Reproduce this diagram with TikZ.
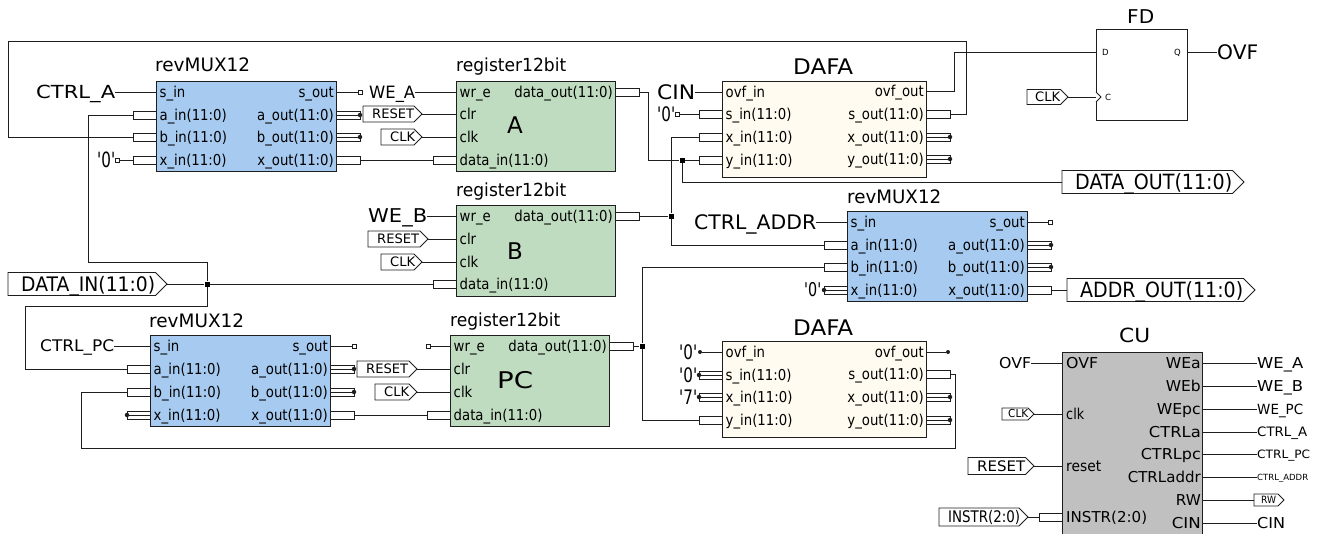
\documentclass[tikz,border=0pt]{standalone}
\usepackage{fontspec}
\usepackage{graphicx}
\setmainfont{DejaVu Sans}
\definecolor{muxblue}{HTML}{A6CAF0}
\definecolor{reggreen}{HTML}{C0DCC0}
\definecolor{dafacream}{HTML}{FFFBF0}
\definecolor{cugray}{HTML}{C0C0C0}
\definecolor{ink}{HTML}{1E1E1E}
\tikzset{
  blk/.style={draw=ink,line width=1pt,inner sep=0pt,anchor=north west},
  wire/.style={draw=ink,line width=0.9pt},
  stub/.style={draw=ink,line width=1pt,fill=white},
  jct/.style={fill=black,inner sep=0pt,minimum size=5pt},
  sqend/.style={draw=ink,line width=0.8pt,fill=white,inner sep=0pt,minimum size=4pt},
  dotend/.style={circle,fill=ink,inner sep=0pt,minimum size=4.5pt},
  tagline/.style={draw=ink,line width=0.9pt,fill=white,line join=miter}
}
\newcommand\sz[3]{\fontsize{#1}{#1}\selectfont\if\relax\detokenize{#2}\relax #3\else\resizebox{#2pt}{\height}{#3}\fi}
% anchor,name,x,ycentre,size,width,text
\newcommand\tx[7]{\node[anchor=#1,inner sep=0pt] (#2) at ({#3},{#4+0.36*#5}) {\sz{#5}{#6}{#7}};}
% name,x1,y1,x2,y2,colour
\newcommand\blockbox[6]{\node[blk,fill=#6,minimum width={(#4-#2)*1pt},minimum height={(#5-#3)*1pt}] (#1) at (#2,#3) {};}
\newcommand\plabL[4]{\tx{base west}{#1-t}{#2+3.5}{#3}{15}{}{\scalebox{.885}[1]{#4}}}
\newcommand\plabR[4]{\tx{base east}{#1-t}{#2-2}{#3}{15}{}{\scalebox{.885}[1]{#4}}}
% wire ports: id,x,y,text
\newcommand\Lw[4]{\coordinate (#1) at (#2,#3);\plabL{#1}{#2}{#3}{#4}}
\newcommand\Rw[4]{\coordinate (#1) at (#2,#3);\plabR{#1}{#2}{#3}{#4}}
% bus ports
\newcommand\Lb[4]{\draw[stub] (#2-23,#3-4) rectangle (#2,#3+4);\coordinate (#1) at (#2-23,#3);\plabL{#1}{#2}{#3}{#4}}
\newcommand\Rb[4]{\draw[stub] (#2,#3-4) rectangle (#2+24,#3+4);\coordinate (#1) at (#2+24,#3);\plabR{#1}{#2}{#3}{#4}}
% bus ports ended by a dot
\newcommand\Rbd[4]{\Rb{#1}{#2}{#3}{#4}\node[dotend] (#1-d) at (#2+24,#3) {};\draw[wire] (#2,#3) -- (#1-d);}
\newcommand\Lbd[4]{\Lb{#1}{#2}{#3}{#4}\node[dotend] (#1-d) at (#2-23,#3) {};\draw[wire] (#2,#3) -- (#1-d);}
% signal tag: name,x1,x2,yc,h,size,textleft,textwidth,text
\newcommand\sigtag[9]{\draw[tagline] (#2,#4-#5/2) -- (#3-#5/2,#4-#5/2) -- (#3,#4) -- (#3-#5/2,#4+#5/2) -- (#2,#4+#5/2) -- cycle;
  \coordinate (#1) at (#3,#4);\coordinate (#1-w) at (#2,#4);\tx{base west}{#1-t}{#7}{#4}{#6}{#8}{#9}}
\newcommand\qq[1]{\textquotesingle#1\textquotesingle}
\begin{document}
\begin{tikzpicture}[x=1pt,y=-1pt]
\useasboundingbox (0,0) rectangle (1319,533);
\clip (0,0) rectangle (1319,533);
% ---------- blocks
\blockbox{M1}{156}{81}{336}{171}{muxblue}
\blockbox{RA}{456}{81}{615}{171}{reggreen}
\blockbox{D1}{722}{81}{926}{177}{dafacream}
\blockbox{RB}{456}{205}{615}{296}{reggreen}
\blockbox{M3}{847}{211}{1027}{301}{muxblue}
\blockbox{M2}{150}{335}{330}{426}{muxblue}
\blockbox{RP}{450}{335}{609}{426}{reggreen}
\blockbox{D2}{722}{341}{926}{437}{dafacream}
\blockbox{FF}{1096}{29}{1187}{120}{white}
\blockbox{CU}{1062}{352}{1202}{545}{cugray}
% ---------- titles
\tx{base west}{M1-title}{155}{65}{18.5}{95}{revMUX12}
\tx{base west}{M3-title}{847}{197}{18.5}{94}{revMUX12}
\tx{base west}{M2-title}{149}{321}{18.5}{95}{revMUX12}
\tx{base west}{RA-title}{456}{65}{18}{110}{register12bit}
\tx{base west}{RB-title}{456}{190}{18}{110}{register12bit}
\tx{base west}{RP-title}{450}{320}{18}{110}{register12bit}
\tx{base west}{D1-title}{793}{67}{21.5}{60}{DAFA}
\tx{base west}{D2-title}{793}{328}{21.5}{60}{DAFA}
\tx{base west}{FF-title}{1127}{17}{19}{27}{FD}
\tx{base west}{CU-title}{1119}{335}{19.5}{31}{CU}
\tx{base west}{RA-name}{507}{125}{23}{}{A}
\tx{base west}{RB-name}{507}{251}{23}{}{B}
\tx{base west}{RP-name}{497}{380}{23}{36}{PC}
% ---------- M1
\Lw{M1-s}{156}{92}{s\_in}
\Lb{M1-a}{156}{115}{a\_in(11:0)}
\Lb{M1-b}{156}{137}{b\_in(11:0)}
\Lb{M1-x}{156}{160}{x\_in(11:0)}
\Rw{M1-so}{336}{92}{s\_out}
\Rbd{M1-ao}{336}{115}{a\_out(11:0)}
\Rbd{M1-bo}{336}{137}{b\_out(11:0)}
\Rb{M1-xo}{336}{160}{x\_out(11:0)}
% ---------- RA
\Lw{RA-w}{456}{92}{wr\_e}
\Lw{RA-r}{456}{114}{clr}
\Lw{RA-c}{456}{137}{clk}
\Lb{RA-d}{456}{160}{data\_in(11:0)}
\Rb{RA-q}{615}{92}{data\_out(11:0)}
% ---------- RB
\Lw{RB-w}{456}{216}{wr\_e}
\Lw{RB-r}{456}{239}{clr}
\Lw{RB-c}{456}{262}{clk}
\Lb{RB-d}{456}{284}{data\_in(11:0)}
\Rb{RB-q}{615}{216}{data\_out(11:0)}
% ---------- RP
\Lw{RP-w}{450}{346}{wr\_e}
\Lw{RP-r}{450}{369}{clr}
\Lw{RP-c}{450}{392}{clk}
\Lb{RP-d}{450}{415}{data\_in(11:0)}
\Rb{RP-q}{609}{346}{data\_out(11:0)}
% ---------- D1
\Lw{D1-o}{722}{92}{ovf\_in}
\Lb{D1-s}{722}{114}{s\_in(11:0)}
\Lb{D1-x}{722}{137}{x\_in(11:0)}
\Lb{D1-y}{722}{160}{y\_in(11:0)}
\Rw{D1-oo}{926}{91}{ovf\_out}
\Rb{D1-so}{926}{114}{s\_out(11:0)}
\Rbd{D1-xo}{926}{137}{x\_out(11:0)}
\Rbd{D1-yo}{926}{159}{y\_out(11:0)}
% ---------- D2
\Lw{D2-o}{722}{352}{ovf\_in}
\Lbd{D2-s}{722}{375}{s\_in(11:0)}
\Lbd{D2-x}{722}{397}{x\_in(11:0)}
\Lb{D2-y}{722}{420}{y\_in(11:0)}
\Rw{D2-oo}{926}{352}{ovf\_out}
\Rb{D2-so}{926}{374}{s\_out(11:0)}
\Rbd{D2-xo}{926}{397}{x\_out(11:0)}
\Rbd{D2-yo}{926}{420}{y\_out(11:0)}
% ---------- M3
\Lw{M3-s}{847}{222}{s\_in}
\Lb{M3-a}{847}{245}{a\_in(11:0)}
\Lb{M3-b}{847}{267}{b\_in(11:0)}
\Lbd{M3-x}{847}{290}{x\_in(11:0)}
\Rw{M3-so}{1027}{222}{s\_out}
\Rbd{M3-ao}{1027}{245}{a\_out(11:0)}
\Rbd{M3-bo}{1027}{267}{b\_out(11:0)}
\Rb{M3-xo}{1027}{290}{x\_out(11:0)}
% ---------- M2
\Lw{M2-s}{150}{346}{s\_in}
\Lb{M2-a}{150}{369}{a\_in(11:0)}
\Lb{M2-b}{150}{392}{b\_in(11:0)}
\Lbd{M2-x}{150}{415}{x\_in(11:0)}
\Rw{M2-so}{330}{346}{s\_out}
\Rbd{M2-ao}{330}{369}{a\_out(11:0)}
\Rbd{M2-bo}{330}{392}{b\_out(11:0)}
\Rb{M2-xo}{330}{415}{x\_out(11:0)}
% ---------- FF
\coordinate (FF-D) at (1096,52);
\coordinate (FF-C) at (1096,97);
\coordinate (FF-Q) at (1187,52);
\tx{base west}{FF-Dt}{1102}{52}{8.5}{}{D}
\tx{base west}{FF-Ct}{1105}{97}{8.5}{}{C}
\tx{base west}{FF-Qt}{1174}{52}{8.5}{}{Q}
\draw[wire,fill=white] (1096,92) -- (1101,97) -- (1096,102);
% ---------- CU ports
\tx{base west}{CU-ot}{1066}{363}{15}{32}{OVF}
\coordinate (CU-o) at (1062,363);
\tx{base west}{CU-ct}{1066}{414}{15}{18}{clk}
\coordinate (CU-c) at (1062,414);
\tx{base west}{CU-rt}{1066}{466}{15}{35}{reset}
\coordinate (CU-r) at (1062,466);
\draw[stub] (1039,513) rectangle (1062,521);
\coordinate (CU-i) at (1039,517);
\tx{base west}{CU-it}{1066}{517}{15}{81}{INSTR(2:0)}
\foreach \nm/\yy/\ww/\tt in {a/363/35/WEa,b/386/35/WEb,p/409/44/WEpc,la/432/52/CTRLa,lp/454/60/CTRLpc,ld/477/73/CTRLaddr,w/500/25/RW,n/523/29/CIN}{
  \coordinate (CU-\nm) at (1202,\yy);
  \tx{base east}{CU-\nm t}{1201}{\yy}{15}{\ww}{\tt}
}
% ---------- free labels
\tx{base west}{CTRLA}{36}{92}{18}{79}{CTRL\_A}
\tx{base west}{WEA}{369}{92}{17}{46}{WE\_A}
\tx{base west}{WEB}{368}{216}{19}{59}{WE\_B}
\tx{base west}{CTRLPC}{40}{346}{16}{74}{CTRL\_PC}
\tx{base west}{CTRLADDR}{694}{222}{20}{122}{CTRL\_ADDR}
\tx{base west}{CINL}{657}{92}{20}{38}{CIN}
\tx{base west}{OVFQ}{1217}{52}{20}{41}{OVF}
\tx{base west}{OVFC}{999}{363}{15}{32}{OVF}
\tx{base west}{ZM1}{97}{160}{21}{18}{\qq{0}}
\tx{base west}{ZD1}{657}{114}{20}{18}{\qq{0}}
\tx{base west}{ZM3}{804}{290}{19}{17}{\qq{0}}
\tx{base west}{ZD2o}{679}{352}{20}{18}{\qq{0}}
\tx{base west}{ZD2s}{679}{375}{20}{18}{\qq{0}}
\tx{base west}{ZD2x}{679}{397}{20}{18}{\qq{7}}
\tx{base west}{CUWA}{1257}{363}{15}{46}{WE\_A}
\tx{base west}{CUWB}{1257}{386}{15}{46}{WE\_B}
\tx{base west}{CUWP}{1257}{409}{14}{46}{WE\_PC}
\tx{base west}{CUCA}{1257}{432}{13}{50}{CTRL\_A}
\tx{base west}{CUCP}{1257}{454}{11.5}{53}{CTRL\_PC}
\tx{base west}{CUCD}{1257}{477}{8.5}{51}{CTRL\_ADDR}
\tx{base west}{CUCN}{1257}{523}{15}{28}{CIN}
% ---------- tags
\sigtag{TRA}{363}{422}{114}{16}{13}{372}{42}{RESET}
\sigtag{TCA}{381}{422}{137}{16}{13}{390}{25}{CLK}
\sigtag{TRB}{368}{428}{239}{16}{13}{377}{42}{RESET}
\sigtag{TCB}{381}{422}{262}{16}{13}{390}{25}{CLK}
\sigtag{TRP}{357}{417}{369}{16}{13}{366}{42}{RESET}
\sigtag{TCP}{375}{417}{392}{16}{13}{384}{25}{CLK}
\sigtag{TCF}{1027}{1068}{97}{15}{13}{1035}{25}{CLK}
\sigtag{TDO}{1062}{1244}{182}{23}{21}{1075}{157}{DATA\_OUT(11:0)}
\sigtag{TAO}{1067}{1255}{290}{23}{21}{1080}{163}{ADDR\_OUT(11:0)}
\sigtag{TDI}{8}{167}{284}{23}{20}{21}{134}{DATA\_IN(11:0)}
\sigtag{TCC}{1002}{1034}{414}{12}{11}{1008}{20}{CLK}
\sigtag{TRC}{968}{1034}{466}{17}{14.5}{977}{48}{RESET}
\sigtag{TIC}{939}{1028}{517}{18}{16}{948}{72}{INSTR(2:0)}
\sigtag{TRW}{1254}{1284}{500}{12}{10}{1261}{15}{RW}
% ---------- ends and junctions
\node[sqend] (S1) at (360,92) {};
\node[sqend] (S2) at (117,160) {};
\node[sqend] (S3) at (677,114) {};
\node[sqend] (S4) at (1050,222) {};
\node[sqend] (S5) at (354,346) {};
\node[sqend] (S6) at (428,346) {};
\node[dotend,minimum size=4pt] (E1) at (700,352) {};
\node[dotend,minimum size=4pt] (E2) at (948,352) {};
\node[jct] (J1) at (682,160) {};
\node[jct] (J2) at (671,216) {};
\node[jct] (J3) at (207,284) {};
\node[jct] (J4) at (642,346) {};
% ---------- connectors
\begin{scope}[wire]
\draw (CTRLA.east |- M1-s) -- (M1-s);
\draw (M1-so) -- (S1);
\draw (WEA.east |- RA-w) -- (RA-w);
\draw (TRA) -- (RA-r);
\draw (TCA) -- (RA-c);
\draw (M1-xo) -- (RA-d);
\draw (S2) -- (M1-x);
\draw (WEB.east |- RB-w) -- (RB-w);
\draw (TRB) -- (RB-r);
\draw (TCB) -- (RB-c);
\draw (TDI) -- (J3) -- (RB-d);
\draw (J3) -- (207,262) -- (88,262) -- (88,115) -- (M1-a);
\draw (J3) -- (207,306) -- (25,306) -- (25,369) -- (M2-a);
\draw (RA-q) -- (648,92) -- (648,160) -- (J1) -- (D1-y);
\draw (J1) -- (682,182) -- (TDO-w);
\draw (RB-q) -- (J2);
\draw (D1-x) -- (671,137) -- (J2) -- (671,245) -- (M3-a);
\draw (CINL.east |- D1-o) -- (D1-o);
\draw (S3) -- (D1-s);
\draw (D1-oo) -- (954,91) -- (954,52) -- (FF-D);
\draw (D1-so) -- (966,114) -- (966,41) -- (8,41) -- (8,137) -- (M1-b);
\draw (TCF) -- (FF-C);
\draw (FF-Q) -- (OVFQ.west |- FF-Q);
\draw (CTRLADDR.east |- M3-s) -- (M3-s);
\draw (M3-so) -- (S4);
\draw (M3-xo) -- (TAO-w);
\draw (RP-q) -- (J4);
\draw (M3-b) -- (642,267) -- (J4) -- (642,420) -- (D2-y);
\draw (E1) -- (D2-o);
\draw (D2-oo) -- (E2);
\draw (D2-so) -- (955,374) -- (955,448) -- (81,448) -- (81,392) -- (M2-b);
\draw (CTRLPC.east |- M2-s) -- (M2-s);
\draw (M2-so) -- (S5);
\draw (S6) -- (RP-w);
\draw (TRP) -- (RP-r);
\draw (TCP) -- (RP-c);
\draw (M2-xo) -- (RP-d);
\draw (OVFC.east |- CU-o) -- (CU-o);
\draw (TCC) -- (CU-c);
\draw (TRC) -- (CU-r);
\draw (TIC) -- (CU-i);
\draw (CU-a) -- (CUWA.west |- CU-a);
\draw (CU-b) -- (CUWB.west |- CU-b);
\draw (CU-p) -- (CUWP.west |- CU-p);
\draw (CU-la) -- (CUCA.west |- CU-la);
\draw (CU-lp) -- (CUCP.west |- CU-lp);
\draw (CU-ld) -- (CUCD.west |- CU-ld);
\draw (CU-w) -- (TRW-w);
\draw (CU-n) -- (CUCN.west |- CU-n);
\end{scope}
\end{tikzpicture}
\end{document}
